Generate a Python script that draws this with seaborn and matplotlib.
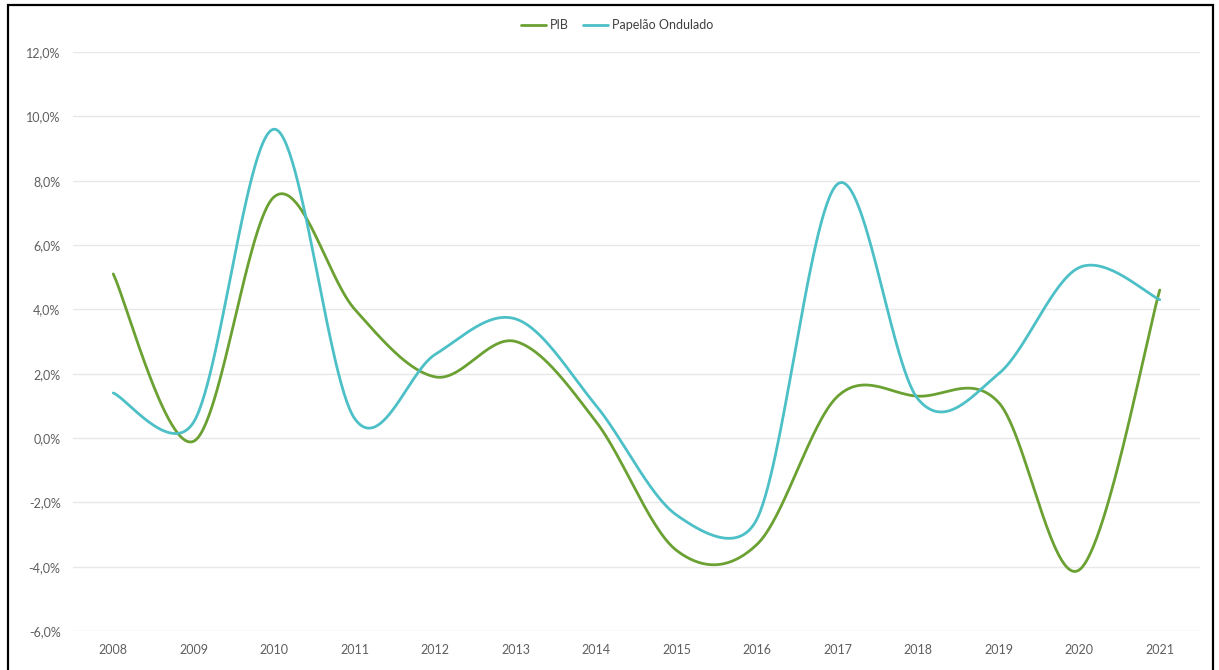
import numpy as np
import pandas as pd
import matplotlib
matplotlib.use("Agg")
import matplotlib.pyplot as plt
import seaborn as sns

# ---- data ----
years = [2008, 2009, 2010, 2011, 2012, 2013, 2014, 2015, 2016, 2017, 2018, 2019, 2020, 2021]
pib = [5.1, -0.1, 7.5, 4.0, 1.9, 3.0, 0.5, -3.5, -3.3, 1.3, 1.3, 1.1, -4.1, 4.6]
papelao = [1.4, 0.5, 9.6, 0.6, 2.6, 3.7, 1.0, -2.4, -2.5, 7.9, 1.2, 2.0, 5.3, 4.3]
series_names = ["PIB", "Papelão Ondulado"]
colors = {"PIB": "#6aa132", "Papelão Ondulado": "#4cc0c6"}
y_ticks = [-6, -4, -2, 0, 2, 4, 6, 8, 10, 12]

sns.set_theme(style="white")
plt.rcParams['font.family'] = ['Lato', 'DejaVu Sans']

W, H = 1219, 670
fig = plt.figure(figsize=(W / 100, H / 100), dpi=100)
ax = fig.add_axes([73 / W, (H - 631) / H, (1200 - 73) / W, (631 - 52) / H])
ax.set_xlim(years[0] - 0.5, years[-1] + 0.5)
ax.set_ylim(-6, 12)


def excel_smooth(ax, xs, ys, n=60):
    """Excel-like smoothed line (Bezier segments), computed in pixel space."""
    pts = ax.transData.transform(np.column_stack([xs, ys]).astype(float))
    N = len(pts)
    out = []
    t = np.linspace(0, 1, n)[:, None]
    for i in range(N - 1):
        p1, p2 = pts[i], pts[i + 1]
        p0 = pts[i - 1] if i > 0 else pts[i]
        p3 = pts[i + 2] if i + 2 < N else pts[i + 1]
        d12 = np.linalg.norm(p2 - p1)
        d02 = np.linalg.norm(p2 - p0)
        d13 = np.linalg.norm(p3 - p1)
        f = 1 / 6 if d02 == 0 else min(1 / 6, 0.5 * d12 / d02)
        g = 1 / 6 if d13 == 0 else min(1 / 6, 0.5 * d12 / d13)
        c1 = p1 + f * (p2 - p0)
        c2 = p2 - g * (p3 - p1)
        seg = ((1 - t) ** 3) * p1 + 3 * ((1 - t) ** 2) * t * c1 + 3 * (1 - t) * t ** 2 * c2 + t ** 3 * p2
        if i > 0:
            seg = seg[1:]
        out.append(seg)
    out = np.vstack(out)
    return ax.transData.inverted().transform(out)


frames = []
for name, vals in zip(series_names, [pib, papelao]):
    curve = excel_smooth(ax, years, vals)
    frames.append(pd.DataFrame({"x": curve[:, 0], "y": curve[:, 1], "serie": name}))
df = pd.concat(frames, ignore_index=True)

sns.lineplot(data=df, x="x", y="y", hue="serie", palette=colors, sort=False,
             estimator=None, linewidth=2.0, ax=ax, zorder=3)

ax.set_xlim(years[0] - 0.5, years[-1] + 0.5)
ax.set_ylim(-6, 12)
ax.set_xticks(years)
ax.set_xticklabels([str(y) for y in years])
ax.set_yticks(y_ticks)
ax.set_yticklabels([f"{v:.1f}%".replace(".", ",") for v in y_ticks])
ax.tick_params(axis="both", length=0, labelsize=9, colors="#5f5f5f")
ax.tick_params(axis="x", pad=9)
ax.tick_params(axis="y", pad=9)
ax.set_xlabel("")
ax.set_ylabel("")
ax.grid(axis="y", color="#e8e8e8", linewidth=1.0)
ax.grid(axis="x", visible=False)
ax.set_axisbelow(True)
for s in ax.spines.values():
    s.set_visible(False)

handles, labels = ax.get_legend_handles_labels()
ax.legend(handles, labels, loc="center", bbox_to_anchor=(617 / W, 1 - 25 / H),
          bbox_transform=fig.transFigure, ncol=2, frameon=False, fontsize=9,
          handlelength=2.0, handletextpad=0.3, columnspacing=1.2, labelcolor="#404040")

# outer frame as in the reference image
frame = plt.Rectangle((8 / W, -0.01), (1213 - 8) / W, 1.01 - 5 / H, transform=fig.transFigure,
                      fill=False, edgecolor="black", linewidth=1.6, zorder=10)
fig.patches.append(frame)

fig.savefig("out.png", dpi=100)
